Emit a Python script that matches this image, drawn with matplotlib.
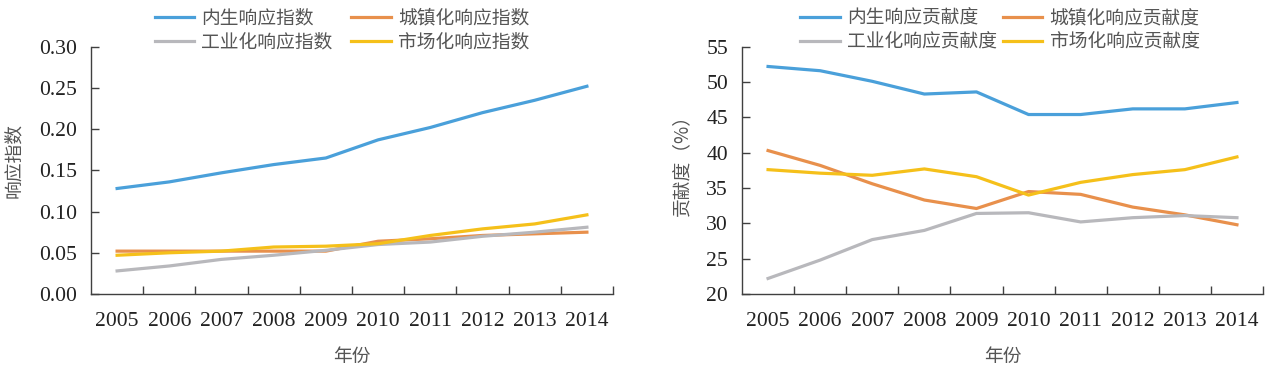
import matplotlib.pyplot as plt
import numpy as np

# years on the x axis
years = ['2005', '2006', '2007', '2008', '2009', '2010', '2011', '2012', '2013', '2014']

# left panel: response index
idx_names = ['内生响应指数', '城镇化响应指数', '工业化响应指数', '市场化响应指数']
idx_endo = [0.128, 0.136, 0.147, 0.157, 0.165, 0.187, 0.202, 0.220, 0.235, 0.252]
idx_urban = [0.052, 0.052, 0.052, 0.052, 0.052, 0.064, 0.067, 0.071, 0.073, 0.075]
idx_indus = [0.028, 0.034, 0.042, 0.047, 0.053, 0.060, 0.063, 0.070, 0.075, 0.081]
idx_market = [0.047, 0.050, 0.052, 0.057, 0.058, 0.061, 0.071, 0.079, 0.085, 0.096]

# right panel: contribution (%)
con_names = ['内生响应贡献度', '城镇化响应贡献度', '工业化响应贡献度', '市场化响应贡献度']
con_endo = [52.2, 51.6, 50.1, 48.3, 48.6, 45.4, 45.4, 46.2, 46.2, 47.1]
con_urban = [40.3, 38.2, 35.6, 33.3, 32.1, 34.5, 34.1, 32.3, 31.2, 29.8]
con_indus = [22.2, 24.8, 27.7, 29.0, 31.4, 31.5, 30.2, 30.8, 31.1, 30.8]
con_market = [37.6, 37.1, 36.8, 37.7, 36.6, 34.0, 35.8, 36.9, 37.6, 39.4]

colors = ['#4aa0da', '#e8904c', '#b8b8bc', '#f5c01a']
axis_col = '#404040'
txt_col = '#222222'
num_font = ['Liberation Serif', 'DejaVu Serif']
cjk_font = ['Noto Sans CJK SC', 'DejaVu Sans']

fig = plt.figure(figsize=(12.71, 3.68), dpi=100)
ax1 = fig.add_axes([0.0716, 0.2011, 0.4107, 0.672])
ax2 = fig.add_axes([0.5838, 0.2011, 0.4099, 0.672])


def style_axis(ax, yticks, fmt, ylabel, label_x):
    x = np.arange(len(years))
    ax.set_xlim(-0.5, len(years) - 0.5)
    ax.set_xticks(x)
    ax.set_xticklabels(years)
    ax.set_xticks(np.arange(len(years)) + 0.5, minor=True)
    ax.tick_params(axis='x', which='major', length=0, pad=13)
    ax.tick_params(axis='x', which='minor', direction='in', length=6,
                   width=1.0, color=axis_col)
    ax.set_ylim(yticks[0], yticks[-1])
    ax.set_yticks(yticks)
    ax.set_yticklabels([fmt.format(v) for v in yticks])
    ax.tick_params(axis='y', direction='in', length=6, width=1.0,
                   color=axis_col, pad=10)
    for lab in ax.get_xticklabels() + ax.get_yticklabels():
        lab.set_family(num_font)
        lab.set_fontsize(15.6)
        lab.set_color(txt_col)
    for s in ['top', 'right']:
        ax.spines[s].set_visible(False)
    for s in ['left', 'bottom']:
        ax.spines[s].set_color(axis_col)
        ax.spines[s].set_linewidth(1.0)
    ax.set_xlabel('年份', family=cjk_font, fontsize=13.5, color='#555555',
                  labelpad=11)
    ax.set_ylabel(ylabel, family=cjk_font, fontsize=13.5, color='#555555')
    ax.yaxis.set_label_coords(label_x, 0.54)


x = np.arange(len(years))
for vals, name, c in zip([idx_endo, idx_urban, idx_indus, idx_market], idx_names, colors):
    ax1.plot(x, vals, color=c, lw=2.3, label=name, solid_joinstyle='round')
for vals, name, c in zip([con_endo, con_urban, con_indus, con_market], con_names, colors):
    ax2.plot(x, vals, color=c, lw=2.3, label=name, solid_joinstyle='round')

style_axis(ax1, np.arange(0, 0.301, 0.05), '{:.2f}', '响应指数', -0.128)
style_axis(ax2, np.arange(20, 56, 5), '{:.0f}', '贡献度（%）', -0.096)

# legends sit above the plots, two columns, in row order
order = [0, 2, 1, 3]
for ax, cx, cs in [(ax1, 342 / 1271, 1.0), (ax2, 1000 / 1271, 0.3)]:
    h, l = ax.get_legend_handles_labels()
    leg = ax.legend([h[i] for i in order], [l[i] for i in order], ncol=2,
                    loc='center', bbox_to_anchor=(cx, 1 - 29.7 / 368),
                    bbox_transform=fig.transFigure, frameon=False,
                    prop={'family': cjk_font, 'size': 13.5},
                    handlelength=2.1, handletextpad=0.4, columnspacing=cs,
                    labelspacing=0.15, borderpad=0)
    for t in leg.get_texts():
        t.set_color('#555555')

fig.savefig('out.png', dpi=100)
